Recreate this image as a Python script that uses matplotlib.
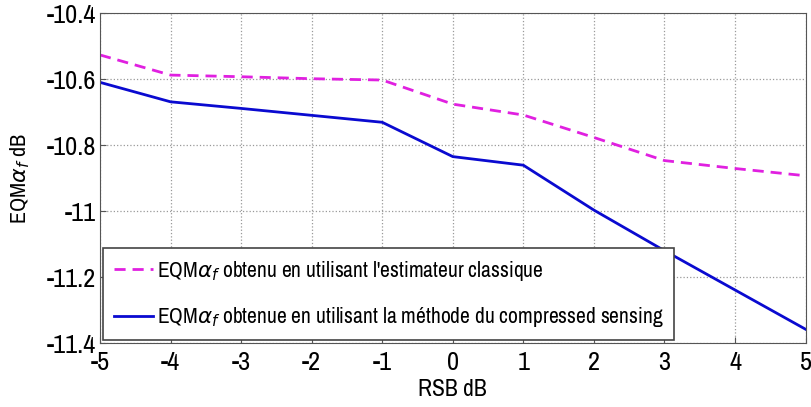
import numpy as np
import matplotlib.pyplot as plt

plt.rcParams['font.family'] = ['Archivo Narrow', 'DejaVu Sans']
plt.rcParams['mathtext.fontset'] = 'dejavusans'

# data
rsb = [-5, -4, -3, -2, -1, 0, 1, 2, 3, 4, 5]
eqm_classique = [-10.527, -10.588, -10.593, -10.599, -10.603, -10.676,
                 -10.709, -10.777, -10.847, -10.871, -10.893]
eqm_cs = [-10.61, -10.669, -10.689, -10.71, -10.731, -10.835,
          -10.861, -10.997, -11.12, -11.239, -11.358]
yticks = [-11.4, -11.2, -11, -10.8, -10.6, -10.4]
ytick_labels = ['-11.4', '-11.2', '-11', '-10.8', '-10.6', '-10.4']

label_1 = r"EQM$\alpha_f$ obtenu en utilisant l'estimateur classique"
label_2 = r"EQM$\alpha_f$ obtenue en utilisant la méthode du compressed sensing"

fig = plt.figure(figsize=(8.11, 4.07), dpi=100)
ax = fig.add_axes([0.1233, 0.157, 0.87, 0.811])

ax.plot(rsb, eqm_classique, color='#e020e0', linestyle='--', linewidth=2,
        dashes=(4, 2.5), label=label_1)
ax.plot(rsb, eqm_cs, color='#0a0ad0', linestyle='-', linewidth=2, label=label_2)

ax.set_xlim(-5, 5)
ax.set_ylim(-11.4, -10.4)
ax.set_xticks(rsb)
ax.set_xticklabels([str(v) for v in rsb])
ax.set_yticks(yticks)
ax.set_yticklabels(ytick_labels)
ax.tick_params(direction='in', length=4, labelsize=19, color='#555555')
ax.tick_params(axis='x', pad=6)
ax.tick_params(axis='y', pad=3)
ax.grid(True, linestyle=':', color='#999999', linewidth=0.9)
for s in ax.spines.values():
    s.set_color('#555555')

ax.set_xlabel('RSB dB', fontsize=17, labelpad=3)
ax.set_ylabel(r'EQM$\alpha_f$ dB', fontsize=16, labelpad=10)

leg = ax.legend(loc='lower left', fontsize=15.5, handlelength=1.8, handletextpad=0.2,
                borderaxespad=0.15, fancybox=False, framealpha=1, labelspacing=1.05,
                borderpad=0.5)
leg.get_frame().set_edgecolor('#444444')
leg.get_frame().set_linewidth(1.2)

fig.savefig('out.png', dpi=100)
